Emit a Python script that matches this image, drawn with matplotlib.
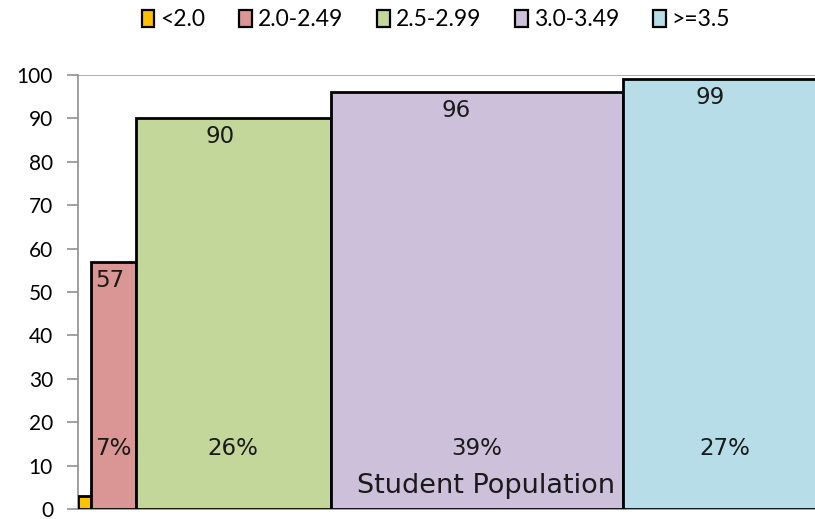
import numpy as np
import matplotlib.pyplot as plt
from matplotlib.patches import Patch

# GPA band, share of student population (bar width) and score (bar height)
bands = ["<2.0", "2.0-2.49", "2.5-2.99", "3.0-3.49", ">=3.5"]
share = [1.7, 6.0, 26.0, 39.0, 27.0]
scores = [3, 57, 90, 96, 99]
score_labels = ["", "57", "90", "96", "99"]
share_labels = ["", "7%", "26%", "39%", "27%"]
colors = ["#FFC000", "#DA9694", "#C4D79B", "#CCC0DA", "#B7DEE8"]
TICK_FONT = ["Lato", "DejaVu Sans"]
LABEL_FONT = ["DejaVu Sans"]

fig = plt.figure(figsize=(8.15, 5.19), dpi=100)
ax = fig.add_axes([78 / 815, 10 / 519, 750 / 815, 434 / 519])

lefts = np.concatenate([[0], np.cumsum(share)[:-1]])
ax.bar(lefts, scores, width=share, align="edge", color=colors,
       edgecolor="black", linewidth=2.0, zorder=3)

for left, w, h, lab, pct in zip(lefts, share, scores, score_labels, share_labels):
    cx = left + w / 2
    if lab:
        # value labels sit a little left of centre, as in the original
        ax.text(cx - 0.07 * w, h - 1.6, lab, ha="center", va="top", fontsize=16.5,
                family=LABEL_FONT, color="#1a1a1a", zorder=4)
    if pct:
        ax.text(cx, 14, pct, ha="center", va="center", fontsize=16.5,
                family=LABEL_FONT, color="#1a1a1a", zorder=4)

ax.text(lefts[3] + share[3] / 2 + 1.2, 5.3, "Student Population", ha="center",
        va="center", fontsize=19.5, family=LABEL_FONT, color="#1a1a1a", zorder=4)

ax.axhline(100, color="#a0a0a0", linewidth=1.2, zorder=1)
ax.set_xlim(0, 100)
ax.set_ylim(0, 100)
ax.set_yticks(np.arange(0, 101, 10))
ax.set_xticks([])
for lbl in ax.get_yticklabels():
    lbl.set_family(TICK_FONT)
    lbl.set_fontsize(15)
ax.tick_params(axis="y", direction="out", length=8, width=1.2, color="#909090", pad=10)
for side in ["top", "right"]:
    ax.spines[side].set_visible(False)
ax.spines["left"].set_color("#909090")
ax.spines["left"].set_linewidth(1.2)
ax.spines["bottom"].set_color("#909090")
ax.spines["bottom"].set_linewidth(1.2)

handles = [Patch(facecolor=c, edgecolor="black", linewidth=1.6) for c in colors]
fig.legend(handles, bands, loc="center", bbox_to_anchor=(436 / 815, 1 - 20 / 519),
           ncol=5, frameon=False, prop={"family": TICK_FONT, "size": 16.5},
           handlelength=0.55, handleheight=0.8, handletextpad=0.25, columnspacing=1.5)

fig.savefig("out.png", dpi=100)
